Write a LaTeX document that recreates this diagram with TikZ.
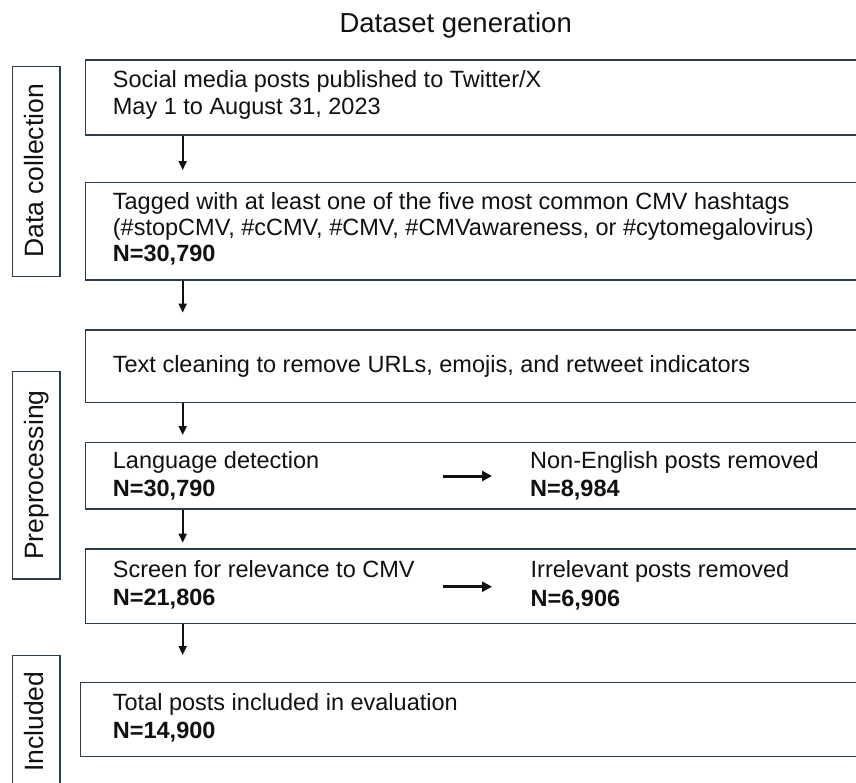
\documentclass[tikz,border=0pt]{standalone}
\usepackage{fontspec}
\setmainfont{Liberation Sans}
\usetikzlibrary{arrows.meta}
\definecolor{edge}{HTML}{2E3D4C}
\definecolor{ink}{HTML}{111111}
\begin{document}
\begin{tikzpicture}[x=1pt,y=-1pt,
  box/.style={draw=edge, line width=1.4pt, rectangle, inner sep=0pt, anchor=north west},
  txt/.style={anchor=base west, inner sep=0pt, text=ink, font=\fontsize{23.5}{28}\selectfont},
  boldtxt/.style={anchor=base west, inner sep=0pt, text=ink, font=\fontsize{23.5}{28}\selectfont\bfseries},
  side/.style={anchor=base west, inner sep=0pt, rotate=90, text=ink, font=\fontsize{26.5}{30}\selectfont},
  varrow/.style={-{Triangle[length=9pt,width=8pt]}, line width=1.8pt, draw=ink},
  harrow/.style={-{Triangle[length=10pt,width=10pt]}, line width=3pt, draw=ink}]
\useasboundingbox (0,0) rectangle (856,783);
\clip (0,0) rectangle (856,783);
\fill[white] (0,0) rectangle (856,783);

% title
\node[anchor=base west, inner sep=0pt, text=ink, font=\fontsize{27.5}{32}\selectfont] (title) at (339.3,32.5) {Dataset generation};

% side label boxes
\node[box, minimum width=47.6pt, minimum height=210pt] (l1) at (11.7,66) {};
\node[box, minimum width=47.6pt, minimum height=207.3pt] (l2) at (11.7,371) {};
\node[box, minimum width=47.6pt, minimum height=140pt] (l3) at (11.7,655) {};
\node[side] (s1) at (43,258) {Data collection};
\node[side] (s2) at (43,560) {Preprocessing};
\node[side] (s3) at (43,772) {Included};

% main boxes
\node[box, minimum width=830pt, minimum height=75pt] (b1) at (85,59.3) {};
\node[box, minimum width=830pt, minimum height=97.6pt] (b2) at (85,181.7) {};
\node[box, minimum width=830pt, minimum height=72.4pt] (b3) at (85,329.3) {};
\node[box, minimum width=830pt, minimum height=66.6pt] (b4) at (85,441.7) {};
\node[box, minimum width=830pt, minimum height=74.4pt] (b5) at (85,548.3) {};
\node[box, minimum width=835pt, minimum height=74.3pt] (b6) at (80,681.7) {};

% texts
\node[txt] (t1a) at (112.7,88) {Social media posts published to Twitter/X};
\node[txt] (t1b) at (112.7,115) {May 1 to August 31, 2023};
\node[txt] (t2a) at (112.7,210) {Tagged with at least one of the five most common CMV hashtags};
\node[txt] (t2b) at (112.7,236) {(\#stopCMV, \#cCMV, \#CMV, \#CMVawareness, or \#cytomegalovirus)};
\node[boldtxt] (t2c) at (112.7,262) {N=30,790};
\node[txt] (t3) at (112.7,372) {Text cleaning to remove URLs, emojis, and retweet indicators};
\node[txt] (t4a) at (112.7,468) {Language detection};
\node[boldtxt] (t4b) at (112.7,496) {N=30,790};
\node[txt] (t4c) at (530,468) {Non-English posts removed};
\node[boldtxt] (t4d) at (530,496.5) {N=8,984};
\node[txt] (t5a) at (112.7,577) {Screen for relevance to CMV};
\node[boldtxt] (t5b) at (112.7,605.5) {N=21,806};
\node[txt] (t5c) at (530.5,577.3) {Irrelevant posts removed};
\node[boldtxt] (t5d) at (530.5,606) {N=6,906};
\node[txt] (t6a) at (112.7,710) {Total posts included in evaluation};
\node[boldtxt] (t6b) at (112.7,738.3) {N=14,900};

% vertical arrows
\coordinate (ax) at (182.7,0);
\draw[varrow, shorten >=11.6pt] (b1.south -| ax) -- (b2.north -| ax);
\draw[varrow, shorten >=16.7pt] (b2.south -| ax) -- (b3.north -| ax);
\draw[varrow, shorten >=6.7pt] (b3.south -| ax) -- (b4.north -| ax);
\draw[varrow, shorten >=5.6pt] (b4.south -| ax) -- (b5.north -| ax);
\draw[varrow, shorten >=26.7pt] (b5.south -| ax) -- (b6.north -| ax);

% horizontal arrows
\coordinate (h4s) at (443,476);
\coordinate (h4e) at (492,476);
\coordinate (h5s) at (443,586.7);
\coordinate (h5e) at (492,586.7);
\draw[harrow] (h4s) -- (h4e);
\draw[harrow] (h5s) -- (h5e);
\end{tikzpicture}
\end{document}
